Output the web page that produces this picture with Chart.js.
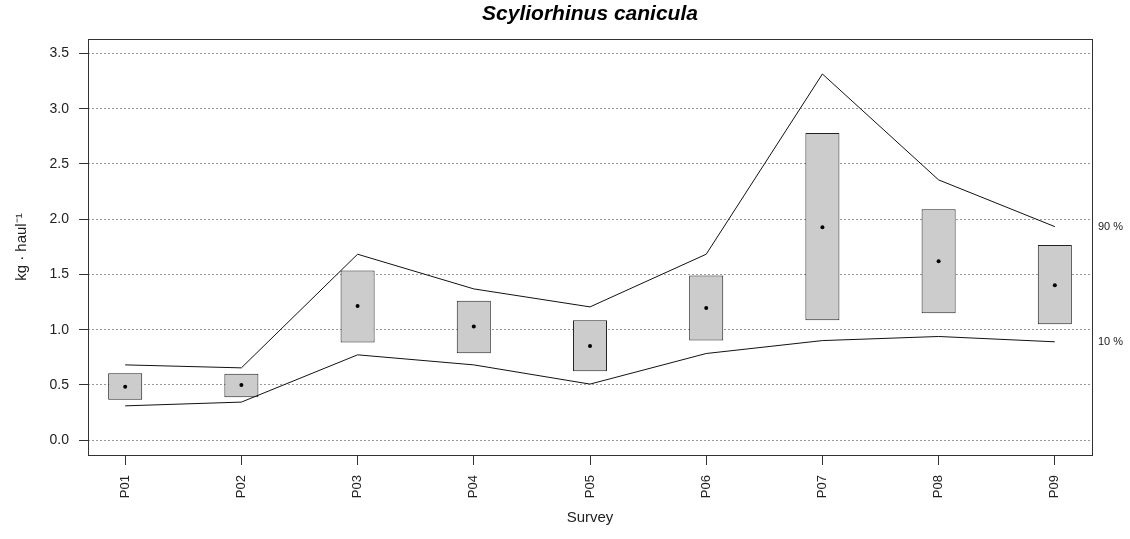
<!DOCTYPE html>
<html>
<head>
<meta charset="utf-8">
<script src="https://cdn.jsdelivr.net/npm/chart.js@4/dist/chart.umd.min.js"></script>
<style>
  html, body { margin: 0; padding: 0; background: #fff; }
  #wrap { width: 1130px; height: 539px; }
</style>
</head>
<body>
<div id="wrap"><canvas id="chart" width="1130" height="539"></canvas></div>
<script>
// survey data
const surveys = ['P01', 'P02', 'P03', 'P04', 'P05', 'P06', 'P07', 'P08', 'P09'];
const boxLow  = [0.365, 0.389, 0.883, 0.787, 0.624, 0.901, 1.086, 1.149, 1.050];
const boxHigh = [0.606, 0.600, 1.535, 1.261, 1.086, 1.490, 2.781, 2.090, 1.767];
const means   = [0.482, 0.498, 1.215, 1.028, 0.853, 1.195, 1.928, 1.620, 1.403];
const upper90 = [0.681, 0.654, 1.683, 1.369, 1.206, 1.683, 3.315, 2.356, 1.933];
const lower10 = [0.310, 0.344, 0.772, 0.681, 0.507, 0.784, 0.901, 0.938, 0.890];
const yTicks  = [0, 0.5, 1.0, 1.5, 2.0, 2.5, 3.0, 3.5];
const bandLabels = ['90 %', '10 %'];

const FONT = "'Liberation Sans', Arial, sans-serif";

const xs = surveys.map((s, i) => i + 1);

// frame round the plot + the 90 % / 10 % labels on the right
const framePlugin = {
    id: 'frame',
    afterLayout(chart) {
        // centre the title over the plot area, not the whole canvas
        if (chart.titleBlock) {
            chart.titleBlock.left = chart.chartArea.left;
            chart.titleBlock.right = chart.chartArea.right;
        }
    },
    afterDraw(chart) {
        const { ctx, chartArea: a, scales } = chart;
        ctx.save();
        ctx.strokeStyle = '#333';
        ctx.lineWidth = 1;
        ctx.strokeRect(Math.round(a.left) + 0.5, Math.round(a.top) + 0.5,
            Math.round(a.right - a.left), Math.round(a.bottom - a.top));

        ctx.fillStyle = '#222';
        ctx.font = '11px ' + FONT;
        ctx.textAlign = 'left';
        ctx.textBaseline = 'middle';
        const last = surveys.length - 1;
        ctx.fillText(bandLabels[0], a.right + 6, scales.y.getPixelForValue(upper90[last]));
        ctx.fillText(bandLabels[1], a.right + 6, scales.y.getPixelForValue(lower10[last]));
        ctx.restore();
    }
};

new Chart(document.getElementById('chart').getContext('2d'), {
    type: 'bar',
    data: {
        datasets: [
            {
                type: 'scatter',
                data: xs.map((x, i) => ({ x: x, y: means[i] })),
                pointRadius: 2,
                pointBackgroundColor: '#000',
                pointBorderWidth: 0,
                order: 0
            },
            {
                type: 'line',
                data: xs.map((x, i) => ({ x: x, y: upper90[i] })),
                borderColor: '#111',
                borderWidth: 1,
                pointRadius: 0,
                tension: 0,
                order: 1
            },
            {
                type: 'line',
                data: xs.map((x, i) => ({ x: x, y: lower10[i] })),
                borderColor: '#111',
                borderWidth: 1,
                pointRadius: 0,
                tension: 0,
                order: 1
            },
            {
                type: 'bar',
                data: xs.map((x, i) => ({ x: x, y: [boxLow[i], boxHigh[i]] })),
                backgroundColor: '#cccccc',
                borderColor: '#222',
                borderWidth: 1,
                borderSkipped: false,
                barPercentage: 0.293,
                categoryPercentage: 1,
                order: 2
            }
        ]
    },
    options: {
        responsive: false,
        animation: false,
        layout: { padding: { left: 0, right: 38, top: 0, bottom: 0 } },
        plugins: {
            legend: { display: false },
            tooltip: { enabled: false },
            title: {
                display: true,
                text: 'Scyliorhinus canicula',
                color: '#000',
                font: { family: FONT, size: 21, style: 'italic', weight: 'bold' },
                padding: { top: 2, bottom: 12 }
            }
        },
        scales: {
            x: {
                type: 'linear',
                offset: false,
                min: 0.68,
                max: 9.32,
                afterBuildTicks: (s) => { s.ticks = xs.map(v => ({ value: v })); },
                afterFit: (s) => { s.height = 84; },
                grid: { offset: false, drawOnChartArea: false, drawTicks: true, tickLength: 10, tickColor: '#333' },
                border: { display: false },
                ticks: {
                    minRotation: 90,
                    maxRotation: 90,
                    padding: 10,
                    color: '#222',
                    font: { family: FONT, size: 13 },
                    callback: (v) => surveys[v - 1]
                },
                title: {
                    display: true,
                    text: 'Survey',
                    color: '#222',
                    font: { family: FONT, size: 15 },
                    padding: { top: 0, bottom: 12 }
                }
            },
            y: {
                min: -0.135,
                max: 3.63,
                afterBuildTicks: (s) => { s.ticks = yTicks.map(v => ({ value: v })); },
                afterFit: (s) => { s.width = 88; },
                grid: { color: '#999', lineWidth: 1, tickLength: 9, tickColor: '#333', tickBorderDash: [] },
                border: { display: false, dash: [2, 2] },
                ticks: {
                    padding: 10,
                    color: '#222',
                    font: { family: FONT, size: 14 },
                    callback: (v) => v.toFixed(1)
                },
                title: {
                    display: true,
                    text: 'kg · haul⁻¹',
                    color: '#222',
                    font: { family: FONT, size: 15 },
                    padding: { top: 13, bottom: 0 }
                }
            }
        }
    },
    plugins: [framePlugin]
});
</script>
</body>
</html>
